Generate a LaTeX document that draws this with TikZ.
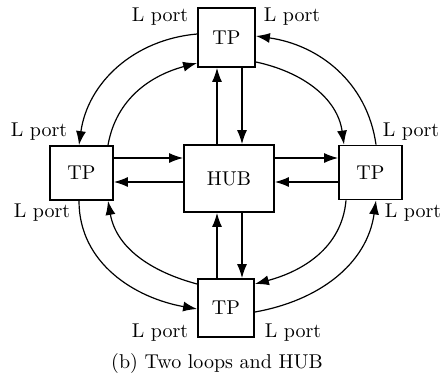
\documentclass[tikz,border=0pt]{standalone}
\usetikzlibrary{arrows.meta}
\begin{document}
\begin{tikzpicture}[x=0.5pt,y=-0.5pt,
  box/.style={draw,line width=0.9pt,inner sep=0pt,font=\fontsize{10}{12}\selectfont},
  lbl/.style={inner sep=0pt,font=\fontsize{10}{12}\selectfont},
  arr/.style={line width=0.6pt,-{Latex[length=7pt,width=5pt]}}]
\useasboundingbox (0,0) rectangle (441,376);

% terminals and hub
\node[box,minimum width=28.5pt,minimum height=29.5pt] (ttp) at (226.5,37.5) {TP};
\node[box,minimum width=31.5pt,minimum height=27pt] (ltp) at (81.5,173) {TP};
\node[box,minimum width=45pt,minimum height=33.5pt] (hub) at (229,178.5) {HUB};
\node[box,minimum width=31.5pt,minimum height=27pt] (rtp) at (370.5,172.5) {TP};
\node[box,minimum width=28pt,minimum height=29pt] (btp) at (226,308) {TP};

% port labels
\node[lbl] (l1) at (160,17) {L port};
\node[lbl] (l2) at (292,17) {L port};
\node[lbl] (l3) at (39,132) {L port};
\node[lbl] (l4) at (411,132) {L port};
\node[lbl] (l5) at (42,213) {L port};
\node[lbl] (l6) at (413,213) {L port};
\node[lbl] (l7) at (160,333) {L port};
\node[lbl] (l8) at (293,333) {L port};

\node[lbl] (cap) at (217,363) {(b) Two loops and HUB};

% star links to the hub
\coordinate (vu) at ([xshift=-6pt]hub.north);
\coordinate (vd) at ([xshift=6.5pt]hub.north);
\coordinate (bu) at ([xshift=-6pt]hub.south);
\coordinate (bd) at ([xshift=6.5pt]hub.south);
\coordinate (hr) at ([yshift=10.25pt]hub.west);
\coordinate (hl) at ([yshift=-1.75pt]hub.west);
\coordinate (kr) at ([yshift=10.25pt]hub.east);
\coordinate (kl) at ([yshift=-1.75pt]hub.east);

\draw[arr] (vu) -- (vu |- ttp.south);
\draw[arr] (vd |- ttp.south) -- (vd);
\draw[arr] (bu |- btp.north) -- (bu);
\draw[arr] (bd) -- (bd |- btp.north);
\draw[arr] (hr -| ltp.east) -- (hr);
\draw[arr] (hl) -- (hl -| ltp.east);
\draw[arr] (kr) -- (kr -| rtp.west);
\draw[arr] (kl -| rtp.west) -- (kl);

% outer loop (counter-clockwise)
\draw[arr] ([yshift=1.75pt]ttp.west) to[out=185,in=82] ([xshift=-1.25pt]ltp.north);
\draw[arr] ([xshift=-1.25pt]ltp.south) to[out=-90,in=170] ([yshift=-0.5pt]btp.west);
\draw[arr] ([yshift=-2pt]btp.east) to[out=10,in=-98] ([xshift=2.75pt]rtp.south);
\draw[arr] ([xshift=2.75pt]rtp.north) to[out=98,in=-8] ([yshift=0.75pt]ttp.east);

% inner loop (clockwise)
\draw[arr] ([xshift=13.25pt]ltp.north) to[out=80,in=195] ([yshift=-12.75pt]ttp.west);
\draw[arr] ([yshift=-12.25pt]ttp.east) to[out=-12,in=98] ([xshift=-13.25pt]rtp.north);
\draw[arr] ([xshift=-12.25pt]rtp.south) to[out=-95,in=15] ([yshift=12pt]btp.east);
\draw[arr] ([yshift=12pt]btp.west) to[out=165,in=-80] ([xshift=13.25pt]ltp.south);
\end{tikzpicture}
\end{document}
